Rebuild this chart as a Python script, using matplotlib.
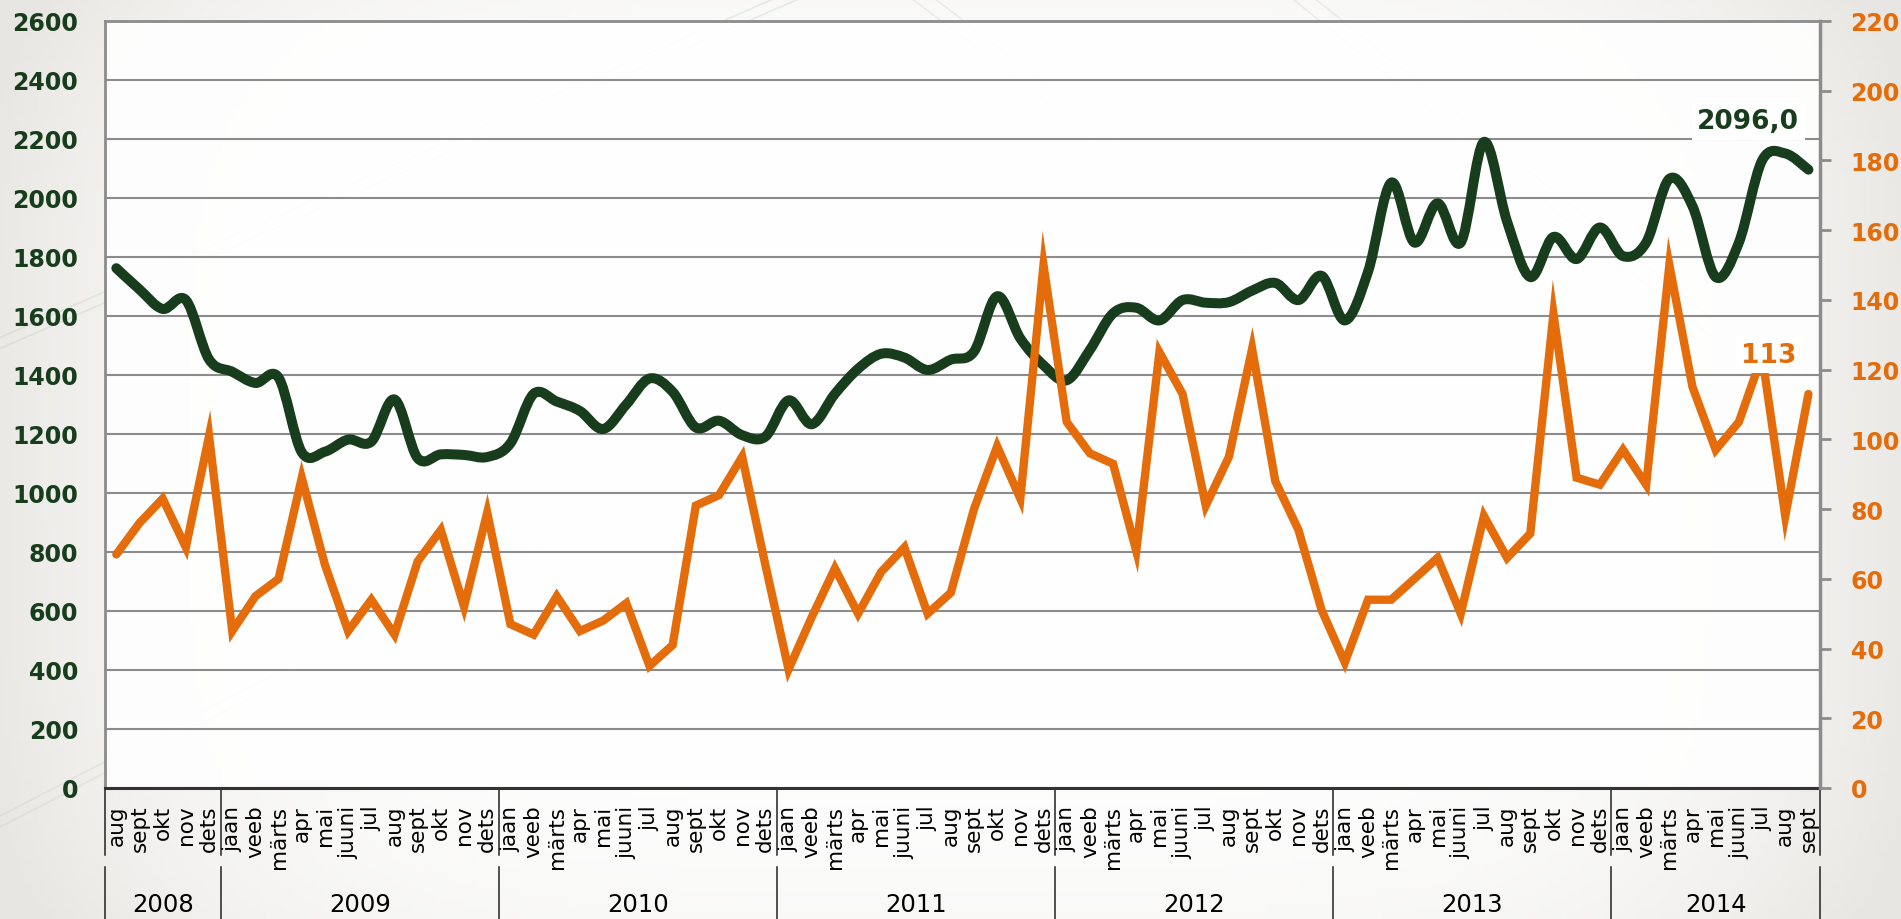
import numpy as np
import matplotlib.pyplot as plt
from matplotlib.path import Path
from matplotlib.patches import PathPatch
from matplotlib.transforms import blended_transform_factory

plt.rcParams['font.family'] = ['DejaVu Sans']

# month labels (Estonian), aug 2008 .. sept 2014
full_year = ['jaan', 'veeb', 'märts', 'apr', 'mai', 'juuni',
             'jul', 'aug', 'sept', 'okt', 'nov', 'dets']
months = full_year[7:] + full_year * 5 + full_year[:9]
years = ['2008', '2009', '2010', '2011', '2012', '2013', '2014']
year_counts = [5, 12, 12, 12, 12, 12, 9]

# left axis series (dark green)
green_vals = [1762, 1690, 1624, 1654, 1453,
              1411, 1373, 1391, 1138, 1140, 1181, 1174, 1317, 1118, 1131, 1129, 1122,
              1168, 1336, 1310, 1278, 1217, 1300, 1388, 1343, 1222, 1245, 1196, 1191,
              1314, 1233, 1336, 1421, 1472, 1459, 1417, 1452, 1479, 1667, 1524, 1433,
              1382, 1485, 1609, 1628, 1585, 1654, 1645, 1647, 1686, 1712, 1654, 1736,
              1585, 1750, 2052, 1849, 1982, 1849, 2190, 1920, 1732, 1868, 1793, 1900,
              1803, 1849, 2065, 1972, 1732, 1849, 2127, 2151, 2096]

# right axis series (orange)
orange_vals = [67, 76, 83, 69, 101,
               45, 55, 60, 89, 64, 45, 54, 44, 65, 74, 52, 79,
               47, 44, 55, 45, 48, 53, 35, 41, 81, 84, 95, 64,
               34, 49, 63, 50, 62, 69, 50, 56, 80, 98, 83, 150,
               105, 96, 93, 68, 125, 113, 81, 95, 126, 88, 74, 51,
               36, 54, 54, 60, 66, 50, 78, 66, 73, 136, 89, 87,
               97, 87, 150, 115, 97, 105, 124, 78, 113]

green_label = '2096,0'
orange_label = '113'

GREEN = '#173d1c'
ORANGE = '#e46c0a'
GRID = '#8c8c8c'


def smooth_path(xs, ys):
    # excel-like smoothed line as cubic bezier segments through the points
    pts = np.column_stack([xs, ys]).astype(float)
    n = len(pts)
    verts = [pts[0]]
    codes = [Path.MOVETO]
    for i in range(n - 1):
        p0 = pts[max(i - 1, 0)]
        p1 = pts[i]
        p2 = pts[i + 1]
        p3 = pts[min(i + 2, n - 1)]
        verts += [p1 + (p2 - p0) / 6, p2 - (p3 - p1) / 6, p2]
        codes += [Path.CURVE4] * 3
    return Path(verts, codes)


fig = plt.figure(figsize=(19.01, 9.2), dpi=100)

# soft background: white in the middle, light warm grey at the edges
bg = fig.add_axes([0, 0, 1, 1])
gx, gy = np.meshgrid(np.linspace(-1, 1, 300), np.linspace(-1, 1, 150))
t = np.clip((np.abs(gx) ** 4) * 0.9 + (np.abs(gy) ** 4) * 0.25, 0, 1)[..., None]
edge = np.array([0.91, 0.905, 0.89])
img = (1 - t) * np.ones(3) + t * edge
bg.imshow(img, extent=[0, 1, 0, 1], aspect='auto', origin='lower')
for off in [0.0, 0.012]:
    bg.plot([0.0, 0.42], [0.62 + off, 1.0 + off], color='#b8c8b8', lw=1.2, alpha=0.3)
    bg.plot([0.0, 0.30], [0.10 + off, 0.42 + off], color='#b8c8b8', lw=1.2, alpha=0.25)
    bg.plot([0.48 + off, 0.72 + off], [1.0, 0.62], color='#c0c0c0', lw=1.2, alpha=0.25)
    bg.plot([0.68 + off, 0.92 + off], [1.0, 0.60], color='#c0c0c0', lw=1.2, alpha=0.25)
bg.set_xlim(0, 1)
bg.set_ylim(0, 1)
bg.axis('off')

ax = fig.add_axes([0.0551, 0.1424, 0.9023, 0.8337])
ax.set_facecolor((1, 1, 1, 0.9))
x = np.arange(len(months))

ax.set_xlim(-0.5, len(months) - 0.5)
ax.set_ylim(0, 2600)
ax.set_yticks(np.arange(0, 2601, 200))
ax.yaxis.grid(True, color=GRID, lw=1.5)
ax.set_axisbelow(True)
ax.tick_params(axis='y', length=0, pad=19, labelsize=17, labelcolor=GREEN)
for lbl in ax.get_yticklabels():
    lbl.set_fontweight('bold')

ax.set_xticks(x)
ax.set_xticklabels(months, rotation=90, va='top', ha='center', fontsize=15.5)
ax.tick_params(axis='x', length=0, pad=12)

for side in ['top', 'left', 'right']:
    ax.spines[side].set_color(GRID)
    ax.spines[side].set_linewidth(2)
ax.spines['bottom'].set_color('#333333')
ax.spines['bottom'].set_linewidth(2.2)

ax.add_patch(PathPatch(smooth_path(x, green_vals), facecolor='none', edgecolor=GREEN,
                       lw=7.2, capstyle='round', joinstyle='round', zorder=3))
ax.text(70.4, 2260, green_label, color=GREEN, fontsize=19, fontweight='bold',
        ha='center', va='center', zorder=5,
        bbox=dict(facecolor='white', edgecolor='none', pad=4))

# year row under the month labels
tr = blended_transform_factory(ax.transData, ax.transAxes)
start = 0
bounds = [-0.5]
for yr, cnt in zip(years, year_counts):
    ax.text(start + (cnt - 1) / 2, -0.1512, yr, transform=tr, ha='center', va='center',
            fontsize=17.5, color='black')
    start += cnt
    bounds.append(start - 0.5)
for b in bounds:
    ax.plot([b, b], [0, -0.087], transform=tr, color='#222222', lw=1.1, clip_on=False)
    ax.plot([b, b], [-0.103, -0.175], transform=tr, color='#222222', lw=1.1, clip_on=False)

ax2 = ax.twinx()
ax2.set_ylim(0, 220)
ax2.set_yticks(np.arange(0, 221, 20))
ax2.plot(x, orange_vals, color=ORANGE, lw=6, solid_joinstyle='miter',
         solid_capstyle='round', zorder=3)
ax2.tick_params(axis='y', length=8, width=2, color=GRID, pad=14,
                labelsize=17, labelcolor=ORANGE)
for lbl in ax2.get_yticklabels():
    lbl.set_fontweight('bold')
for side in ['top', 'left', 'bottom']:
    ax2.spines[side].set_visible(False)
ax2.spines['right'].set_color(GRID)
ax2.spines['right'].set_linewidth(2.5)
ax2.text(71.3, 124.3, orange_label, color=ORANGE, fontsize=19, fontweight='bold',
         ha='center', va='center', zorder=5,
         bbox=dict(facecolor='white', edgecolor='none', pad=4))

fig.savefig('out.png', dpi=100)
